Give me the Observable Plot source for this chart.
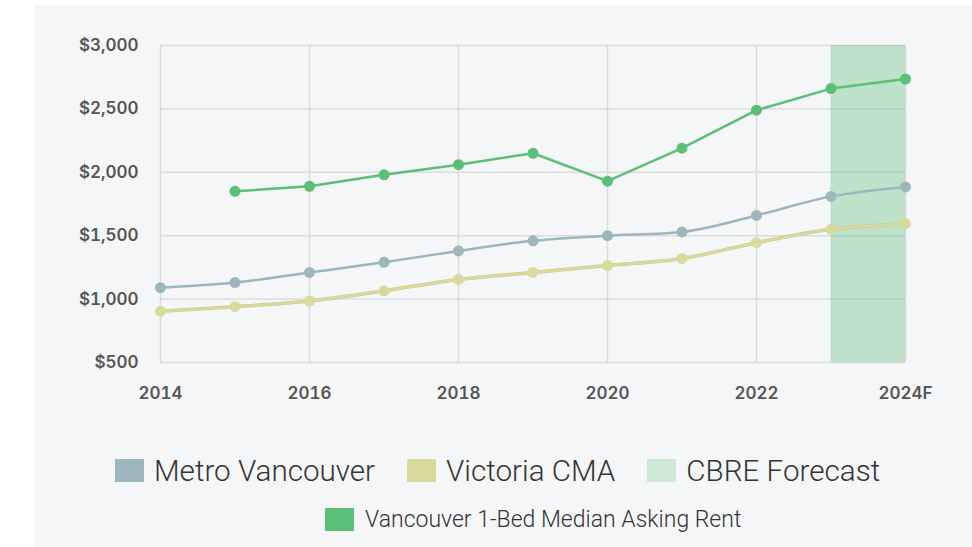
<!DOCTYPE html>
<html>
<head>
<meta charset="utf-8">
<script src="https://cdn.jsdelivr.net/npm/d3@7"></script>
<script src="https://cdn.jsdelivr.net/npm/@observablehq/plot@0.6"></script>
<style>
  html, body { margin: 0; padding: 0; background: #ffffff; }
  #wrap { position: relative; width: 972px; height: 547px; overflow: hidden; }
  #panel { position: absolute; left: 34px; top: 5px; width: 938px; height: 542px; background: #f5f6f8; }
  #chart { position: absolute; left: 0; top: 0; }
  .row { position: absolute; display: flex; align-items: center; font-family: Roboto, "Noto Sans", sans-serif; font-weight: 300; color: #333; white-space: nowrap; }
  .sw { width: 29px; height: 23px; flex: none; }
  #row1 { left: 115px; top: 458px; height: 25px; font-size: 29.6px; }
  #row1 .item { display: flex; align-items: center; margin-right: 32px; }
  #row1 .sw { margin-right: 10px; }
  #row2 { left: 325px; top: 507px; height: 24px; font-size: 23px; }
  #row2 .sw { margin-right: 11px; }
</style>
</head>
<body>
<div id="wrap">
  <div id="panel"></div>
  <div id="chart"></div>
  <div class="row" id="row1"></div>
  <div class="row" id="row2"></div>
</div>
<script>
const years = [2014, 2015, 2016, 2017, 2018, 2019, 2020, 2021, 2022, 2023, 2024];
const metroVancouver = [1090, 1130, 1210, 1290, 1380, 1460, 1500, 1530, 1660, 1810, 1885];
const victoriaCMA = [905, 940, 985, 1065, 1155, 1210, 1265, 1320, 1445, 1550, 1595];
const vancouver1Bed = [null, 1850, 1890, 1980, 2060, 2150, 1930, 2190, 2490, 2660, 2735];
const forecastStart = 2023;
const forecastEnd = 2024;
const xTicks = [2014, 2016, 2018, 2020, 2022, 2024];
const xTickLabels = ["2014", "2016", "2018", "2020", "2022", "2024F"];
const yTicks = [500, 1000, 1500, 2000, 2500, 3000];

const seriesNames = ["Metro Vancouver", "Victoria CMA", "CBRE Forecast", "Vancouver 1-Bed Median Asking Rent"];
const seriesColors = ["#9bb6bd", "#d9d99b", "#cfe8d5", "#5bbf78"];

const toRows = (vals) => years.map((y, i) => ({year: y, value: vals[i]})).filter(d => d.value != null);
const metroRows = toRows(metroVancouver);
const victoriaRows = toRows(victoriaCMA);
const vanRows = toRows(vancouver1Bed);

const chart = Plot.plot({
  width: 972,
  height: 420,
  marginLeft: 160,
  marginRight: 67,
  marginTop: 45,
  marginBottom: 58,
  style: { background: "transparent", fontFamily: "Inter, 'DejaVu Sans', sans-serif" },
  x: { domain: [2014, 2024], type: "linear", label: null },
  y: { domain: [500, 3000], label: null },
  marks: [
    Plot.gridY(yTicks, { stroke: "#dcdcdc", strokeOpacity: 1, strokeWidth: 1.5 }),
    Plot.gridX(xTicks, { stroke: "#dcdcdc", strokeOpacity: 1, strokeWidth: 1.5 }),
    Plot.rect([{x1: forecastStart, x2: forecastEnd}], { x1: "x1", x2: "x2", y1: 500, y2: 3000, fill: "#5bbf78", fillOpacity: 0.36 }),
    Plot.axisY(yTicks, { tickSize: 0, tickPadding: 22, label: null, tickFormat: d => "$" + d3.format(",")(d), fontSize: 17, fontWeight: 600, fill: "#555" }),
    Plot.axisX(xTicks, { tickSize: 0, tickPadding: 24, label: null, tickFormat: d => xTickLabels[xTicks.indexOf(d)], fontSize: 17, fontWeight: 600, fill: "#555" }),
    Plot.line(victoriaRows, { x: "year", y: "value", stroke: "#c9c98a", strokeWidth: 3.5, curve: "monotone-x" }),
    Plot.line(victoriaRows, { x: "year", y: "value", stroke: seriesColors[1], strokeWidth: 2.5, curve: "monotone-x" }),
    Plot.dot(victoriaRows, { x: "year", y: "value", fill: seriesColors[1], r: 5.5 }),
    Plot.line(metroRows, { x: "year", y: "value", stroke: seriesColors[0], strokeWidth: 2.5, curve: "monotone-x" }),
    Plot.dot(metroRows, { x: "year", y: "value", fill: seriesColors[0], r: 5.5 }),
    Plot.line(vanRows, { x: "year", y: "value", stroke: seriesColors[3], strokeWidth: 2.5, curve: "linear" }),
    Plot.dot(vanRows, { x: "year", y: "value", fill: seriesColors[3], r: 5.5 })
  ]
});
document.getElementById("chart").appendChild(chart);

const row1 = document.getElementById("row1");
[0, 1, 2].forEach(i => {
  const item = document.createElement("div");
  item.className = "item";
  const sw = document.createElement("div");
  sw.className = "sw";
  sw.style.background = seriesColors[i];
  const t = document.createElement("span");
  t.textContent = seriesNames[i];
  item.appendChild(sw); item.appendChild(t);
  row1.appendChild(item);
});
const row2 = document.getElementById("row2");
{
  const sw = document.createElement("div");
  sw.className = "sw";
  sw.style.background = seriesColors[3];
  const t = document.createElement("span");
  t.textContent = seriesNames[3];
  row2.appendChild(sw); row2.appendChild(t);
}
</script>
</body>
</html>
